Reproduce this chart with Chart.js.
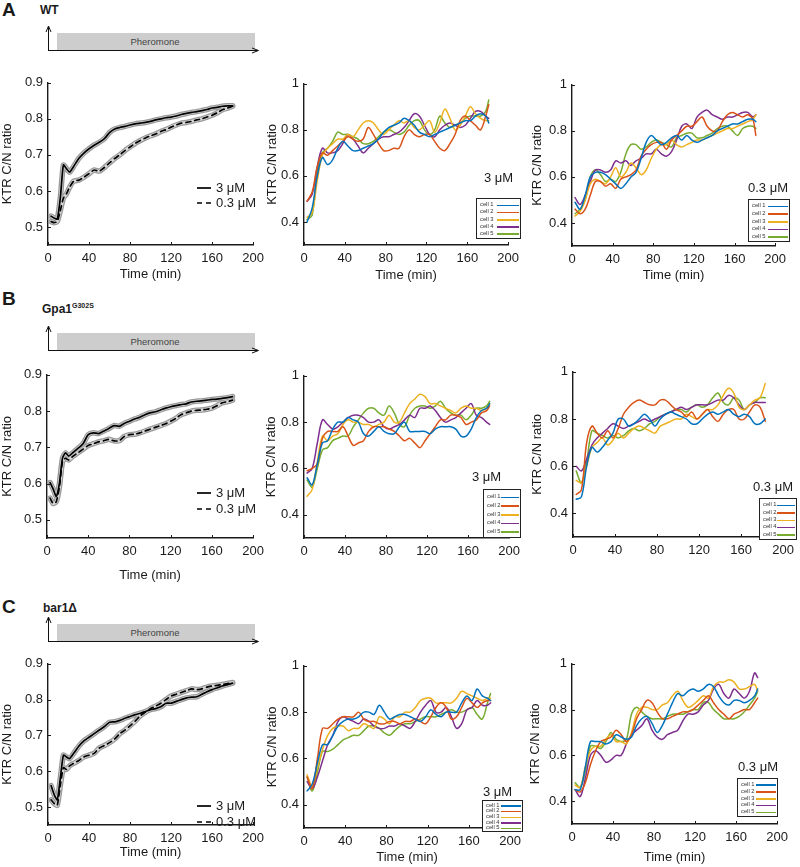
<!DOCTYPE html>
<html>
<head>
<meta charset="utf-8">
<script src="https://cdn.jsdelivr.net/npm/chart.js@4.4.1/dist/chart.umd.min.js"></script>
<style>
  body { margin: 0; width: 800px; height: 867px; position: relative; overflow: hidden; background: #fff;
         font-family: 'Liberation Sans', Arial, Helvetica, sans-serif; color: #1a1a1a; }
  canvas, .abs { position: absolute; }
  .panel { font-weight: bold; font-size: 19px; line-height: 1; }
  .strain { font-weight: bold; font-size: 12px; line-height: 1; }
  .conc { font-size: 13px; line-height: 1; white-space: nowrap; }
  .cellbox { border: 1px solid #222; background: #fff; box-sizing: border-box; }
  .cellrow { position: absolute; left: 3px; font-size: 5.8px; line-height: 1; color: #333; white-space: nowrap; }
</style>
</head>
<body>
<script>
// ---- data ----
const xTicks = [0, 40, 80, 120, 160, 200];
const meanYTicks = [0.5, 0.6, 0.7, 0.8, 0.9];
const cellYTicks = [0.4, 0.6, 0.8, 1];

// population means (min)
const meanTime = [3, 6, 9, 12, 15, 18, 21, 25, 30, 35, 40, 45, 50, 55, 60, 65, 70, 75, 80, 85, 90, 95, 100,
  105, 110, 115, 120, 125, 130, 135, 140, 145, 150, 155, 160, 165, 170, 175, 180];
const wtHighMean = [0.530, 0.525, 0.522, 0.580, 0.672, 0.662, 0.652, 0.668, 0.690, 0.705, 0.717, 0.727, 0.735,
  0.745, 0.762, 0.772, 0.776, 0.779, 0.783, 0.786, 0.788, 0.790, 0.793, 0.797, 0.800, 0.803, 0.805, 0.808, 0.812,
  0.815, 0.818, 0.820, 0.823, 0.826, 0.830, 0.832, 0.835, 0.836, 0.836];
const wtLowMean = [0.515, 0.512, 0.515, 0.545, 0.580, 0.592, 0.610, 0.627, 0.630, 0.638, 0.648, 0.658, 0.655,
  0.665, 0.678, 0.690, 0.700, 0.712, 0.722, 0.732, 0.740, 0.747, 0.753, 0.758, 0.765, 0.770, 0.777, 0.783, 0.788,
  0.790, 0.793, 0.797, 0.800, 0.805, 0.810, 0.817, 0.825, 0.830, 0.835];
const gpaHighMean = [0.603, 0.585, 0.565, 0.600, 0.670, 0.685, 0.676, 0.685, 0.697, 0.710, 0.735, 0.740, 0.738,
  0.745, 0.752, 0.760, 0.758, 0.766, 0.772, 0.778, 0.783, 0.790, 0.795, 0.798, 0.803, 0.808, 0.812, 0.815, 0.818,
  0.820, 0.825, 0.827, 0.828, 0.830, 0.832, 0.833, 0.835, 0.837, 0.840];
const gpaLowMean = [0.560, 0.545, 0.550, 0.590, 0.660, 0.670, 0.665, 0.675, 0.685, 0.695, 0.705, 0.710, 0.715,
  0.718, 0.722, 0.718, 0.718, 0.730, 0.735, 0.736, 0.740, 0.745, 0.750, 0.755, 0.760, 0.765, 0.772, 0.780, 0.790,
  0.795, 0.800, 0.802, 0.803, 0.805, 0.808, 0.815, 0.823, 0.826, 0.830];
const barHighMean = [0.560, 0.535, 0.520, 0.580, 0.645, 0.640, 0.635, 0.650, 0.670, 0.685, 0.695, 0.705, 0.715,
  0.725, 0.737, 0.738, 0.742, 0.748, 0.753, 0.758, 0.762, 0.767, 0.772, 0.775, 0.780, 0.790, 0.790, 0.795, 0.800,
  0.805, 0.807, 0.808, 0.815, 0.822, 0.828, 0.833, 0.838, 0.842, 0.846];
const barLowMean = [0.520, 0.510, 0.505, 0.560, 0.610, 0.605, 0.615, 0.622, 0.630, 0.640, 0.645, 0.650, 0.665,
  0.672, 0.680, 0.690, 0.705, 0.715, 0.727, 0.740, 0.755, 0.765, 0.775, 0.782, 0.790, 0.800, 0.810, 0.815, 0.820,
  0.825, 0.830, 0.828, 0.830, 0.835, 0.838, 0.840, 0.842, 0.845, 0.848];

// single-cell traces (min)
const cellTime = [3, 8, 13, 18, 23, 28, 33, 38, 43, 48, 53, 58, 63, 68, 73, 78, 83, 88, 93, 98, 103, 108, 113,
  118, 123, 128, 133, 138, 143, 148, 153, 158, 163, 168, 173, 178, 181];
const cellTimeLong = [3, 8, 13, 18, 23, 28, 33, 38, 43, 48, 53, 58, 63, 68, 73, 78, 83, 88, 93, 98, 103, 108, 113,
  118, 123, 128, 133, 138, 143, 148, 153, 158, 163, 168, 173, 178, 183];
const cellNames = ['cell 1', 'cell 2', 'cell 3', 'cell 4', 'cell 5'];
const cellColors = ['#0072BD', '#D95319', '#EDB120', '#7E2F8E', '#77AC30'];

const wtHighCells = [
  [0.40,0.46,0.60,0.68,0.65,0.67,0.72,0.75,0.73,0.71,0.71,0.72,0.73,0.74,0.76,0.79,0.81,0.82,0.83,0.85,0.84,0.82,0.79,0.78,0.77,0.78,0.79,0.80,0.81,0.82,0.83,0.84,0.84,0.86,0.87,0.86,0.83],
  [0.49,0.53,0.64,0.70,0.69,0.71,0.73,0.75,0.77,0.76,0.75,0.76,0.81,0.78,0.74,0.71,0.71,0.72,0.72,0.77,0.80,0.78,0.77,0.78,0.78,0.75,0.72,0.71,0.74,0.78,0.84,0.86,0.84,0.82,0.80,0.86,0.91],
  [0.42,0.44,0.58,0.69,0.72,0.74,0.76,0.76,0.78,0.77,0.80,0.83,0.84,0.83,0.80,0.78,0.80,0.82,0.84,0.83,0.84,0.81,0.80,0.82,0.84,0.79,0.83,0.89,0.85,0.80,0.82,0.86,0.90,0.87,0.85,0.84,0.84],
  [0.49,0.52,0.64,0.72,0.70,0.70,0.71,0.74,0.78,0.76,0.73,0.70,0.72,0.74,0.76,0.77,0.77,0.78,0.79,0.81,0.84,0.87,0.86,0.82,0.78,0.77,0.80,0.82,0.83,0.82,0.81,0.82,0.85,0.88,0.88,0.86,0.85],
  [0.41,0.43,0.62,0.70,0.72,0.75,0.79,0.78,0.78,0.77,0.76,0.74,0.74,0.75,0.77,0.79,0.80,0.79,0.78,0.79,0.82,0.84,0.84,0.80,0.78,0.80,0.86,0.83,0.81,0.82,0.83,0.85,0.86,0.86,0.86,0.88,0.93]
];
const wtLowCells = [
  [0.49,0.46,0.52,0.60,0.62,0.62,0.61,0.59,0.57,0.55,0.57,0.60,0.62,0.68,0.75,0.78,0.76,0.74,0.75,0.77,0.78,0.76,0.78,0.76,0.75,0.76,0.77,0.78,0.80,0.81,0.82,0.83,0.83,0.84,0.85,0.85,0.84],
  [0.46,0.44,0.46,0.52,0.58,0.58,0.56,0.57,0.55,0.59,0.60,0.61,0.63,0.69,0.72,0.74,0.75,0.75,0.72,0.76,0.78,0.80,0.82,0.82,0.84,0.86,0.82,0.80,0.80,0.84,0.87,0.88,0.87,0.86,0.87,0.85,0.78],
  [0.43,0.45,0.50,0.57,0.59,0.58,0.57,0.60,0.64,0.60,0.62,0.66,0.64,0.61,0.63,0.68,0.72,0.74,0.74,0.76,0.74,0.73,0.74,0.75,0.76,0.76,0.77,0.78,0.79,0.80,0.81,0.81,0.82,0.83,0.84,0.85,0.87],
  [0.51,0.48,0.52,0.58,0.63,0.63,0.62,0.63,0.67,0.66,0.67,0.65,0.67,0.68,0.70,0.70,0.72,0.70,0.69,0.71,0.76,0.82,0.83,0.81,0.86,0.88,0.89,0.87,0.86,0.85,0.86,0.86,0.87,0.88,0.88,0.86,0.87],
  [0.44,0.46,0.50,0.60,0.63,0.61,0.58,0.59,0.58,0.62,0.70,0.74,0.74,0.72,0.73,0.75,0.76,0.75,0.74,0.73,0.77,0.78,0.79,0.79,0.77,0.77,0.78,0.79,0.81,0.82,0.82,0.80,0.78,0.81,0.82,0.82,0.81]
];
const gpaHighCells = [
  [0.56,0.53,0.62,0.71,0.72,0.77,0.80,0.80,0.82,0.81,0.80,0.75,0.74,0.76,0.78,0.76,0.75,0.75,0.78,0.80,0.76,0.76,0.76,0.76,0.75,0.77,0.78,0.78,0.78,0.77,0.74,0.74,0.77,0.82,0.85,0.86,0.88],
  [0.59,0.60,0.62,0.73,0.76,0.76,0.76,0.78,0.74,0.70,0.71,0.72,0.76,0.78,0.78,0.78,0.77,0.76,0.74,0.72,0.73,0.71,0.69,0.72,0.75,0.78,0.81,0.81,0.83,0.83,0.82,0.79,0.80,0.81,0.84,0.85,0.87],
  [0.48,0.51,0.63,0.74,0.72,0.74,0.75,0.79,0.81,0.80,0.80,0.79,0.79,0.78,0.79,0.80,0.83,0.80,0.80,0.84,0.88,0.90,0.92,0.91,0.88,0.88,0.87,0.86,0.85,0.84,0.86,0.87,0.86,0.86,0.85,0.86,0.88],
  [0.58,0.60,0.71,0.81,0.79,0.77,0.78,0.80,0.82,0.83,0.83,0.82,0.80,0.80,0.81,0.78,0.77,0.78,0.79,0.81,0.83,0.82,0.86,0.86,0.87,0.85,0.82,0.80,0.81,0.82,0.84,0.86,0.88,0.83,0.82,0.80,0.79],
  [0.55,0.52,0.60,0.68,0.69,0.72,0.73,0.74,0.74,0.78,0.81,0.84,0.86,0.86,0.84,0.83,0.87,0.84,0.79,0.78,0.83,0.86,0.87,0.87,0.86,0.87,0.89,0.86,0.84,0.83,0.83,0.81,0.83,0.86,0.86,0.87,0.89]
];
const gpaLowCells = [
  [0.46,0.47,0.60,0.68,0.66,0.68,0.71,0.74,0.80,0.80,0.77,0.78,0.80,0.82,0.80,0.77,0.80,0.82,0.83,0.82,0.81,0.80,0.78,0.78,0.80,0.82,0.83,0.82,0.83,0.84,0.82,0.81,0.82,0.81,0.78,0.78,0.80],
  [0.48,0.50,0.70,0.77,0.74,0.72,0.75,0.72,0.76,0.82,0.85,0.87,0.88,0.87,0.86,0.86,0.88,0.88,0.86,0.84,0.83,0.81,0.83,0.80,0.82,0.84,0.81,0.79,0.82,0.84,0.84,0.80,0.80,0.83,0.86,0.85,0.79],
  [0.54,0.53,0.60,0.68,0.70,0.72,0.69,0.71,0.74,0.72,0.74,0.76,0.77,0.76,0.75,0.74,0.77,0.78,0.79,0.80,0.80,0.82,0.81,0.80,0.82,0.84,0.84,0.86,0.90,0.93,0.91,0.85,0.84,0.86,0.88,0.89,0.95],
  [0.60,0.58,0.63,0.69,0.72,0.74,0.76,0.78,0.77,0.76,0.77,0.78,0.79,0.80,0.79,0.80,0.81,0.82,0.83,0.84,0.85,0.84,0.85,0.86,0.86,0.86,0.87,0.88,0.88,0.90,0.89,0.86,0.84,0.86,0.87,0.87,0.87],
  [0.58,0.53,0.62,0.75,0.74,0.73,0.72,0.73,0.72,0.73,0.75,0.76,0.75,0.76,0.78,0.79,0.81,0.82,0.83,0.84,0.84,0.83,0.85,0.86,0.85,0.86,0.89,0.91,0.87,0.86,0.89,0.88,0.84,0.86,0.87,0.89,0.89]
];
const barHighCells = [
  [0.46,0.49,0.58,0.66,0.66,0.70,0.74,0.76,0.77,0.77,0.78,0.80,0.80,0.79,0.83,0.80,0.77,0.78,0.79,0.79,0.78,0.77,0.76,0.78,0.81,0.79,0.78,0.80,0.80,0.80,0.84,0.87,0.85,0.90,0.87,0.86,0.85],
  [0.52,0.47,0.60,0.73,0.73,0.75,0.77,0.78,0.78,0.78,0.80,0.77,0.76,0.76,0.75,0.75,0.76,0.76,0.75,0.76,0.76,0.77,0.76,0.75,0.78,0.82,0.84,0.82,0.77,0.78,0.82,0.86,0.84,0.82,0.84,0.85,0.85],
  [0.53,0.48,0.56,0.64,0.70,0.73,0.74,0.74,0.72,0.73,0.73,0.75,0.74,0.73,0.78,0.77,0.75,0.78,0.78,0.80,0.80,0.82,0.85,0.86,0.86,0.84,0.84,0.84,0.84,0.86,0.89,0.88,0.87,0.86,0.85,0.86,0.86],
  [0.50,0.47,0.52,0.59,0.66,0.70,0.76,0.78,0.77,0.76,0.75,0.77,0.76,0.74,0.73,0.73,0.74,0.74,0.75,0.74,0.73,0.76,0.80,0.83,0.85,0.80,0.80,0.82,0.78,0.73,0.75,0.81,0.82,0.85,0.83,0.83,0.84],
  [0.52,0.46,0.54,0.63,0.63,0.64,0.66,0.68,0.69,0.70,0.70,0.72,0.74,0.74,0.73,0.71,0.70,0.72,0.74,0.75,0.75,0.76,0.77,0.78,0.78,0.78,0.79,0.80,0.81,0.80,0.80,0.81,0.82,0.79,0.77,0.84,0.88]
];
const barLowCells = [
  [0.45,0.45,0.55,0.66,0.66,0.66,0.65,0.66,0.69,0.68,0.67,0.68,0.73,0.76,0.77,0.74,0.70,0.73,0.78,0.83,0.87,0.86,0.88,0.89,0.88,0.89,0.91,0.90,0.86,0.83,0.82,0.84,0.84,0.83,0.84,0.86,0.89],
  [0.45,0.44,0.48,0.56,0.62,0.66,0.67,0.68,0.71,0.69,0.66,0.69,0.76,0.80,0.84,0.83,0.79,0.76,0.76,0.77,0.78,0.79,0.79,0.80,0.82,0.84,0.86,0.83,0.80,0.78,0.76,0.78,0.79,0.80,0.80,0.83,0.85],
  [0.47,0.46,0.55,0.62,0.64,0.64,0.67,0.69,0.66,0.66,0.65,0.70,0.78,0.81,0.81,0.80,0.80,0.82,0.83,0.86,0.88,0.84,0.81,0.82,0.84,0.86,0.85,0.90,0.92,0.92,0.93,0.92,0.89,0.89,0.90,0.91,0.88],
  [0.45,0.42,0.50,0.60,0.62,0.60,0.57,0.58,0.60,0.60,0.65,0.69,0.71,0.73,0.76,0.71,0.68,0.67,0.69,0.70,0.71,0.75,0.78,0.78,0.79,0.82,0.84,0.89,0.91,0.87,0.85,0.89,0.87,0.85,0.88,0.96,0.94],
  [0.48,0.46,0.53,0.64,0.64,0.63,0.66,0.70,0.67,0.66,0.67,0.78,0.81,0.79,0.77,0.76,0.76,0.76,0.77,0.78,0.78,0.78,0.79,0.80,0.80,0.83,0.83,0.80,0.78,0.76,0.76,0.76,0.77,0.79,0.82,0.85,0.88]
];

// ---- drawing ----
const FONT = { family: "'Liberation Sans', Arial, Helvetica, sans-serif", size: 13 };
const INK = '#1a1a1a';

const inwardTicks = {
  id: 'inwardTicks',
  afterDraw(chart) {
    const { ctx, chartArea: a, scales: { x, y } } = chart;
    ctx.save();
    ctx.strokeStyle = INK;
    ctx.lineWidth = 1;
    x.ticks.forEach(t => {
      const px = Math.round(x.getPixelForValue(t.value)) + 0.5;
      ctx.beginPath(); ctx.moveTo(px, a.bottom); ctx.lineTo(px, a.bottom - 3); ctx.stroke();
    });
    y.ticks.forEach(t => {
      const py = Math.round(y.getPixelForValue(t.value)) + 0.5;
      ctx.beginPath(); ctx.moveTo(a.left, py); ctx.lineTo(a.left + 3, py); ctx.stroke();
    });
    ctx.restore();
  }
};

// rect = plot area [left, top, right, bottom] in page px
function placeChart(rect, yw, titleGap, yMin, yMax, yTicks, datasets) {
  const [l, t, r, b] = rect;
  const padT = 10, padR = 15;
  const xh = titleGap === null ? 24 : titleGap + 8;
  const left = l - yw, top = t - padT;
  const cv = document.createElement('canvas');
  cv.width = r + padR - left;
  cv.height = b + xh - top;
  cv.style.left = left + 'px';
  cv.style.top = top + 'px';
  document.body.appendChild(cv);
  new Chart(cv, {
    type: 'line',
    data: { datasets },
    options: {
      responsive: false,
      animation: false,
      devicePixelRatio: 1,
      layout: { padding: { top: padT, right: padR, left: 0, bottom: 0 } },
      plugins: { legend: { display: false }, tooltip: { enabled: false } },
      elements: { point: { radius: 0 }, line: { borderJoinStyle: 'round', borderCapStyle: 'round' } },
      scales: {
        x: {
          type: 'linear', min: 0, max: 200,
          afterBuildTicks: s => { s.ticks = xTicks.map(v => ({ value: v })); },
          afterFit: s => { s.height = xh; },
          grid: { display: false, drawTicks: false },
          border: { display: true, color: INK, width: 1.4 },
          ticks: { padding: 6, font: FONT, color: INK, maxRotation: 0, autoSkip: false },
          title: { display: titleGap !== null, text: 'Time (min)', padding: 0, font: FONT, color: INK }
        },
        y: {
          type: 'linear', min: yMin, max: yMax,
          afterBuildTicks: s => { s.ticks = yTicks.map(v => ({ value: v })); },
          afterFit: s => { s.width = yw; },
          grid: { display: false, drawTicks: false },
          border: { display: true, color: INK, width: 1.4 },
          ticks: { padding: 5, font: FONT, color: INK, callback: v => String(v) },
          title: { display: true, text: 'KTR C/N ratio', padding: 0, font: FONT, color: INK }
        }
      }
    },
    plugins: [inwardTicks]
  });
}

// mean line on top of a grey error band (outer edge + light fill)
function meanSets(high, low) {
  const pts = arr => meanTime.map((t, i) => ({ x: t, y: arr[i] }));
  return [
    { data: pts(high), borderColor: '#000', borderWidth: 1.7, tension: 0.2, order: 0 },
    { data: pts(low), borderColor: '#000', borderWidth: 1.7, borderDash: [5, 4], tension: 0.2, order: 1 },
    { data: pts(high), borderColor: '#d6d6d6', borderWidth: 3, tension: 0.2, order: 2 },
    { data: pts(low), borderColor: '#d6d6d6', borderWidth: 3, tension: 0.2, order: 3 },
    { data: pts(high), borderColor: '#9a9a9a', borderWidth: 5.5, tension: 0.2, order: 4 },
    { data: pts(low), borderColor: '#9a9a9a', borderWidth: 5.5, tension: 0.2, order: 5 }
  ];
}

function cellSets(time, cells) {
  return cells.map((arr, i) => ({
    label: cellNames[i],
    data: time.map((t, j) => ({ x: t, y: arr[j] })),
    borderColor: cellColors[i],
    borderWidth: 1.5,
    tension: 0.35
  }));
}

function addHTML(html) {
  document.body.insertAdjacentHTML('beforeend', html);
}

function pheromone(baseY) {
  addHTML(`<svg class="abs" style="left:40px;top:${baseY - 26}px" width="230" height="32">
    <rect x="17" y="9" width="198" height="17" fill="#cdcdcd"/>
    <line x1="8.5" y1="26.5" x2="8.5" y2="3" stroke="#111" stroke-width="1"/>
    <path d="M6,8 L8.5,2 L11,8" fill="none" stroke="#111" stroke-width="1"/>
    <line x1="8" y1="26.5" x2="218" y2="26.5" stroke="#111" stroke-width="1"/>
    <path d="M212,24 L218.5,26.5 L212,29" fill="none" stroke="#111" stroke-width="1"/>
    <text x="115" y="21" font-size="9.5" text-anchor="middle" fill="#444"
      font-family="'Liberation Sans', Arial, sans-serif">Pheromone</text>
  </svg>`);
}

function meanLegend(y1, y2) {
  addHTML(`<svg class="abs" style="left:195px;top:${y1 - 5}px" width="20" height="${y2 - y1 + 10}">
    <line x1="2" y1="5" x2="16" y2="5" stroke="#000" stroke-width="1.7"/>
    <line x1="2" y1="${y2 - y1 + 5}" x2="17" y2="${y2 - y1 + 5}" stroke="#000" stroke-width="1.7" stroke-dasharray="5,4"/>
  </svg>`);
  addHTML(`<div class="abs conc" style="left:216px;top:${y1 - 7}px">3 &mu;M</div>`);
  addHTML(`<div class="abs conc" style="left:216px;top:${y2 - 7}px">0.3 &mu;M</div>`);
}

function cellLegend(label, lx, ly, bx, by, bw, bh) {
  addHTML(`<div class="abs conc" style="left:${lx}px;top:${ly - 7}px">${label}</div>`);
  const pad = bh * 0.15, step = (bh - 2 * pad) / 4;
  let rows = '';
  cellNames.forEach((n, i) => {
    const cy = pad + i * step;
    rows += `<div class="cellrow" style="top:${cy - 3}px">${n}</div>` +
      `<div class="abs" style="left:${bw * 0.45}px;width:${bw * 0.48}px;top:${cy - 0.5}px;height:1.5px;background:${cellColors[i]}"></div>`;
  });
  addHTML(`<div class="abs cellbox" style="left:${bx}px;top:${by}px;width:${bw}px;height:${bh}px">${rows}</div>`);
}

// panel titles
addHTML(`<div class="abs panel" style="left:2px;top:0px">A</div>`);
addHTML(`<div class="abs strain" style="left:40px;top:4px">WT</div>`);
addHTML(`<div class="abs panel" style="left:2px;top:289px">B</div>`);
addHTML(`<div class="abs strain" style="left:42px;top:302px">Gpa1<sup style="font-size:7px">G302S</sup></div>`);
addHTML(`<div class="abs panel" style="left:2px;top:597px">C</div>`);
addHTML(`<div class="abs strain" style="left:43px;top:602px">bar1&Delta;</div>`);

pheromone(50);
pheromone(350);
pheromone(641);

// row A
placeChart([48, 80, 255, 245], 48, 29, 0.45, 0.9, meanYTicks, meanSets(wtHighMean, wtLowMean));
placeChart([304, 81, 510, 245], 39, 30, 0.3, 1, cellYTicks, cellSets(cellTime, wtHighCells));
placeChart([572, 82, 777, 246], 42, 29, 0.3, 1, cellYTicks, cellSets(cellTime, wtLowCells));
// row B
placeChart([47, 372, 255, 538], 47, 37, 0.45, 0.9, meanYTicks, meanSets(gpaHighMean, gpaLowMean));
placeChart([304, 373, 511, 538], 40, null, 0.3, 1, cellYTicks, cellSets(cellTime, gpaHighCells));
placeChart([573, 369, 785, 537], 43, null, 0.3, 1, cellYTicks, cellSets(cellTimeLong, gpaLowCells));
// row C
placeChart([48, 661, 255, 825], 48, 27, 0.45, 0.9, meanYTicks, meanSets(barHighMean, barLowMean));
placeChart([304, 663, 512, 828], 39, 29, 0.3, 1, cellYTicks, cellSets(cellTime, barHighCells));
placeChart([572, 661, 779, 824], 44, 33, 0.3, 1, cellYTicks, cellSets(cellTime, barLowCells));

// legends
meanLegend(188, 203);
meanLegend(493, 509);
meanLegend(806, 822);
cellLegend('3 &mu;M', 484, 178, 476, 198, 45, 41);
cellLegend('0.3 &mu;M', 748, 188, 748, 199, 42, 43);
cellLegend('3 &mu;M', 472, 477, 483, 489, 38, 49);
cellLegend('0.3 &mu;M', 753, 487, 759, 498, 38, 42);
cellLegend('3 &mu;M', 483, 792, 482, 800, 41, 32);
cellLegend('0.3 &mu;M', 738, 767, 737, 778, 41, 39);
</script>
</body>
</html>
